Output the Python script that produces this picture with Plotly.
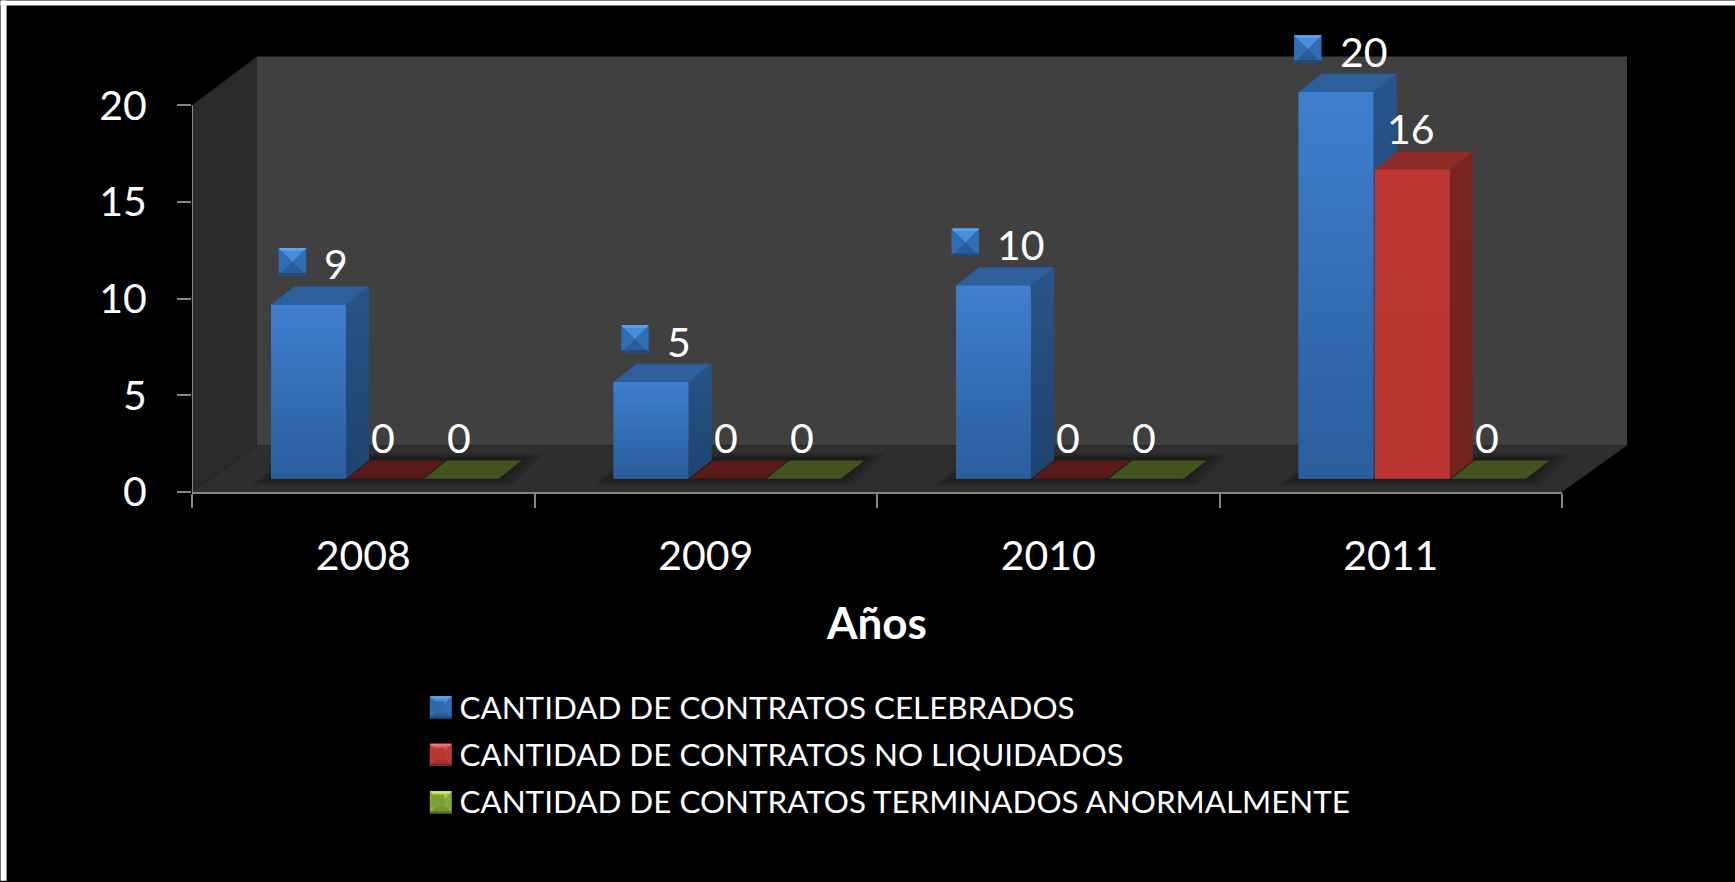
import plotly.graph_objects as go

# ---------- data ----------
years = ["2008", "2009", "2010", "2011"]
celebrados = [9, 5, 10, 20]
no_liquidados = [0, 0, 0, 16]
terminados = [0, 0, 0, 0]
series_names = [
    "CANTIDAD DE CONTRATOS CELEBRADOS",
    "CANTIDAD DE CONTRATOS NO LIQUIDADOS",
    "CANTIDAD DE CONTRATOS TERMINADOS ANORMALMENTE",
]
y_ticks = [0, 5, 10, 15, 20]

# ---------- layout geometry ----------
W, H = 1735, 882
V = 1735 / 1568
AX_L, AX_R, AX_20, AX_B = 191.5, 1562.0, 105.0, 492.4
PX_X = (AX_R - AX_L) / 4
PX_Y = (AX_B - AX_20) / 20
Y_MAX = 24                            # head-room for the top of the tallest bar and its label
AX_T = AX_B - Y_MAX * PX_Y
WALL_TOP = 56.0
DEPTH_X, DEPTH_Y = 65.0, 46.5
BAR_W = 67.6 * V / PX_X
BAR_STEP = 69 * V / PX_X
BAR_SHIFT = 19.5 * V / PX_X
BAR_LIFT = 12 * V / PX_Y
BAR_DX = 21 * V / PX_X
BAR_DY = 16.5 * V / PX_Y

FONT = "Lato, 'Open Sans', sans-serif"
AXIS_C = "#868686"

STYLE = [
    dict(mid="#2F69AC", front=("#3F7FCF", "#2A5D9C"), side=("#27548A", "#1E436D"),
         top="#2D5F9C", zero="#1F4470", key=("#5FA6EE", "#4A8EDB", "#2F6DB5", "#2A5C9C", "#1F4A7C")),
    dict(mid="#B83633", front=("#BD3834", "#B83532"), side=("#7A2421", "#732220"),
         top="#8E2A28", zero="#5A1A1A", key=("#F47A74", "#DE5651", "#BE3A36", "#A8312E", "#7E2522")),
    dict(mid="#7F9E36", front=("#8FB03E", "#6E8C2E"), side=("#55691F", "#4A5C1B"),
         top="#5A7023", zero="#43531E", key=("#CDF073", "#ACD050", "#86A93A", "#749632", "#55701F")),
]


def fx(px):
    return (px - AX_L) / (AX_R - AX_L)


def fy(py):
    return (AX_B - py) / (AX_B - AX_T)


def poly_shape(points, color, layer="below"):
    path = "M " + " L ".join(f"{fx(a):.5f},{fy(b):.5f}" for a, b in points) + " Z"
    return dict(type="path", xref="paper", yref="paper", path=path, layer=layer,
                fillcolor=color, line=dict(width=0))


def icon(cx, cy, size, colors):
    rim, upper, mid, lower, dark = colors
    h = size / 2
    e = size * 0.09
    x0, x1, y0, y1 = cx - h, cx + h, cy - h, cy + h
    return [
        poly_shape([(x0, y0), (x1, y0), (x1, y1), (x0, y1)], mid, "above"),
        poly_shape([(x0, y0), (x1, y0), (cx, cy)], upper, "above"),
        poly_shape([(x0, y1), (x1, y1), (cx, cy)], lower, "above"),
        poly_shape([(x0, y0), (x1, y0), (x1 - e, y0 + e), (x0 + e, y0 + e)], rim, "above"),
        poly_shape([(x0, y1 - e), (x1, y1 - e), (x1, y1), (x0, y1)], dark, "above"),
    ]


shapes = [
    # white slide edge at the top and left
    poly_shape([(0, 0), (W, 0), (W, 5), (0, 5)], "#FFFFFF"),
    poly_shape([(0, 0), (6, 0), (6, H), (0, H)], "#FFFFFF"),
    poly_shape([(AX_L + DEPTH_X, WALL_TOP), (AX_R + DEPTH_X, WALL_TOP),
                (AX_R + DEPTH_X, AX_B - DEPTH_Y), (AX_L + DEPTH_X, AX_B - DEPTH_Y)], "#404040"),
    poly_shape([(AX_L, AX_B), (AX_L + DEPTH_X, AX_B - DEPTH_Y),
                (AX_L + DEPTH_X, WALL_TOP), (AX_L, AX_20)], "#2A2A2A"),
    poly_shape([(AX_L, AX_B), (AX_R, AX_B), (AX_R + DEPTH_X, AX_B - DEPTH_Y),
                (AX_L + DEPTH_X, AX_B - DEPTH_Y)], "#2E2E2E"),
    # value axis line, from 0 to the last tick only
    dict(type="line", xref="x", yref="y", x0=-0.5, x1=-0.5, y0=y_ticks[0], y1=y_ticks[-1],
         line=dict(color=AXIS_C, width=2), layer="above"),
]

all_series = [celebrados, no_liquidados, terminados]


def bar_x(cat, s):
    return cat + BAR_SHIFT + (s - 1) * BAR_STEP


for c in range(len(years)):
    left = AX_L + (bar_x(c, 0) + 0.5 - BAR_W / 2) * PX_X
    right = AX_L + (bar_x(c, 2) + 0.5 + BAR_W / 2) * PX_X
    base = AX_B - BAR_LIFT * PX_Y
    for grow in (20, 13, 7, 2):
        shapes.append(poly_shape(
            [(left - grow, base + grow * 0.3), (right + grow * 0.7, base + grow * 0.3),
             (right + 24 + grow, base - 20 - grow * 0.25), (left + 24 - grow * 0.3, base - 20 - grow * 0.25)],
            "rgba(0,0,0,0.11)"))

fig = go.Figure()

for s, (name, vals) in enumerate(zip(series_names, all_series)):
    fig.add_trace(go.Bar(
        x=[bar_x(c, s) for c in range(len(years))], y=vals,
        base=[BAR_LIFT] * len(vals), width=BAR_W, name=name,
        legendgroup=name, cliponaxis=False, hoverinfo="name+y",
        marker=dict(color=STYLE[s]["mid"], line=dict(width=0)),
    ))


def polygon(xs, ys, color=None, gradient=None):
    kw = dict(fillgradient=gradient) if gradient else dict(fillcolor=color)
    fig.add_trace(go.Scatter(x=xs, y=ys, mode="lines", fill="toself",
                             line=dict(width=0), showlegend=False, hoverinfo="skip",
                             cliponaxis=False, **kw))


for s, vals in enumerate(all_series):
    st = STYLE[s]
    for c, v in enumerate(vals):
        x0 = bar_x(c, s) - BAR_W / 2
        x1 = x0 + BAR_W
        y0, y1 = BAR_LIFT, BAR_LIFT + v
        if v > 0:
            polygon([x1, x1 + BAR_DX, x1 + BAR_DX, x1], [y0, y0 + BAR_DY, y1 + BAR_DY, y1],
                    gradient=dict(type="vertical", colorscale=[[0, st["side"][1]], [1, st["side"][0]]]))
        polygon([x0, x1, x1 + BAR_DX, x0 + BAR_DX], [y1, y1, y1 + BAR_DY, y1 + BAR_DY],
                color=st["top"] if v > 0 else st["zero"])
        if v > 0:
            polygon([x0, x1, x1, x0], [y0, y0, y1, y1],
                    gradient=dict(type="vertical", colorscale=[[0, st["front"][1]], [1, st["front"][0]]]))

annotations = []
LABEL_UP = 37 * V
for s, vals in enumerate(all_series):
    for c, v in enumerate(vals):
        xc = bar_x(c, s)
        shift = 25 * V if s == 0 else -1.5 * V
        annotations.append(dict(
            x=xc, y=BAR_LIFT + v, xref="x", yref="y", text=str(v), showarrow=False,
            xshift=shift, yshift=LABEL_UP, xanchor="center", yanchor="middle",
            font=dict(family=FONT, size=41, color="#FFFFFF"),
        ))
        if s == 0:
            key_off = (-14.5 if v < 10 else -25.5) * V
            cx = AX_L + (xc + 0.5) * PX_X + key_off
            cy = AX_B - (BAR_LIFT + v) * PX_Y - 39 * V
            shapes.extend(icon(cx, cy, 27.5, STYLE[0]["key"]))

for s, row_y in enumerate((640, 683, 726)):
    shapes.extend(icon(398 * V, row_y * V, 22, STYLE[s]["key"]))

fig.update_layout(
    width=W, height=H, autosize=False,
    margin=dict(l=AX_L, r=W - AX_R, t=AX_T, b=H - AX_B, pad=0, autoexpand=False),
    paper_bgcolor="#000000", plot_bgcolor="rgba(0,0,0,0)",
    barmode="overlay", shapes=shapes, annotations=annotations,
    font=dict(family=FONT, color="#FFFFFF"),
    showlegend=True,
    legend=dict(x=fx(417), xanchor="left", y=fy(681), yanchor="top", itemwidth=32,
                font=dict(family=FONT, size=31.4, color="#FFFFFF"),
                bgcolor="rgba(0,0,0,0)", tracegroupgap=3, itemclick=False, itemdoubleclick=False),
    xaxis=dict(
        range=[-0.5, 3.5], tickmode="array", tickvals=list(range(len(years))), ticktext=years,
        ticks="", showgrid=False, zeroline=False, showline=True, linecolor=AXIS_C, linewidth=2,
        tickfont=dict(family=FONT, size=41, color="#FFFFFF"), ticklabelstandoff=27,
        minor=dict(tickmode="array", tickvals=[-0.5, 0.5, 1.5, 2.5, 3.5], ticks="outside",
                   ticklen=14, tickwidth=2, tickcolor=AXIS_C, showgrid=False),
        title=dict(text="<b>Años</b>", font=dict(family=FONT, size=44, color="#FFFFFF"), standoff=30),
    ),
    yaxis=dict(
        range=[0, Y_MAX], tickmode="array", tickvals=y_ticks, ticks="outside", ticklen=14, tickwidth=2,
        tickcolor=AXIS_C, showgrid=False, zeroline=False, showline=False,
        tickfont=dict(family=FONT, size=41, color="#FFFFFF"), ticklabelstandoff=22,
    ),
)

fig.write_html("out.html", include_plotlyjs=True, config={"displayModeBar": False},
               post_script="document.body.style.margin='0';document.body.style.overflow='hidden';document.body.style.background='#000';")
